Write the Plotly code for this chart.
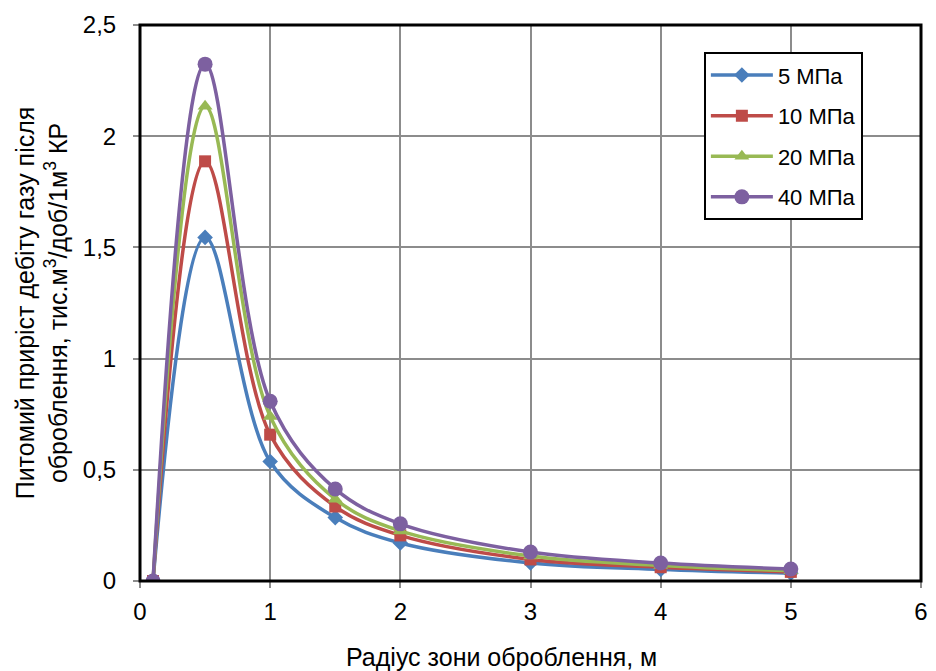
import plotly.graph_objects as go

# Treatment-zone radius, m
radius = [0.1, 0.5, 1, 1.5, 2, 3, 4, 5]

# Specific gas-rate increase, thousand m3/day per 1 m3 of acid
q_5mpa = [0, 1.545, 0.537, 0.285, 0.171, 0.081, 0.052, 0.035]
q_10mpa = [0, 1.887, 0.658, 0.335, 0.205, 0.097, 0.062, 0.041]
q_20mpa = [0, 2.135, 0.74, 0.368, 0.225, 0.112, 0.07, 0.046]
q_40mpa = [0, 2.324, 0.808, 0.414, 0.257, 0.13, 0.081, 0.054]

series_names = ["5 МПа", "10 МПа", "20 МПа", "40 МПа"]
series_values = [q_5mpa, q_10mpa, q_20mpa, q_40mpa]
line_colors = ["#4A7EBB", "#BE4B48", "#98B954", "#7D60A0"]
marker_symbols = ["diamond", "square", "triangle-up", "circle"]
marker_sizes = [12, 12, 13, 15]

x_ticks = [0, 1, 2, 3, 4, 5, 6]
y_ticks = [0, 0.5, 1, 1.5, 2, 2.5]

x_title = "Радіус зони оброблення, м"
y_title = ("Питомий приріст дебіту газу після<br>"
           "оброблення, тис.м<sup>3</sup>/доб/1м<sup>3</sup> КР")

fig = go.Figure()
for name, vals, col, sym, sz in zip(series_names, series_values, line_colors,
                                    marker_symbols, marker_sizes):
    fig.add_trace(go.Scatter(
        x=radius, y=vals, name=name, legendgroup=name, mode="lines+markers",
        line=dict(color=col, width=3.5, shape="spline", smoothing=1.0),
        marker=dict(symbol=sym, size=sz, color=col),
    ))

font_family = "Liberation Sans, Arial, sans-serif"

fig.update_layout(
    width=936, height=671,
    margin=dict(l=140, r=8, t=25, b=90),
    paper_bgcolor="white", plot_bgcolor="white",
    separators=", ",
    font=dict(family=font_family, size=24, color="#000000"),
    showlegend=True,
    legend=dict(
        x=0.722, y=0.951, xanchor="left", yanchor="top",
        bgcolor="white", bordercolor="#000000", borderwidth=2,
        font=dict(size=22), tracegroupgap=9, itemwidth=62,
    ),
    xaxis=dict(
        range=[0, 6], tickvals=x_ticks, showgrid=True,
        gridcolor="#8C8C8C", gridwidth=2, zeroline=False,
        ticks="outside", ticklen=6, tickcolor="#8C8C8C", tickwidth=2,
        ticklabelstandoff=3,
        showline=False, tickfont=dict(size=24),
    ),
    yaxis=dict(
        range=[0, 2.5], tickvals=y_ticks, showgrid=True,
        gridcolor="#8C8C8C", gridwidth=2, zeroline=False,
        ticks="outside", ticklen=6, tickcolor="#8C8C8C", tickwidth=2,
        ticklabelstandoff=12,
        showline=False, tickfont=dict(size=24),
        title=dict(text=y_title, font=dict(size=25), standoff=8),
    ),
    annotations=[dict(
        text=x_title, xref="paper", yref="paper", x=0.463, y=-0.137,
        xanchor="center", yanchor="middle", showarrow=False,
        font=dict(size=25),
    )],
    shapes=[dict(
        type="rect", xref="paper", yref="paper", x0=0, y0=0, x1=1, y1=1,
        line=dict(color="#000000", width=3), layer="above",
    )],
)

fig.write_html("out.html")
